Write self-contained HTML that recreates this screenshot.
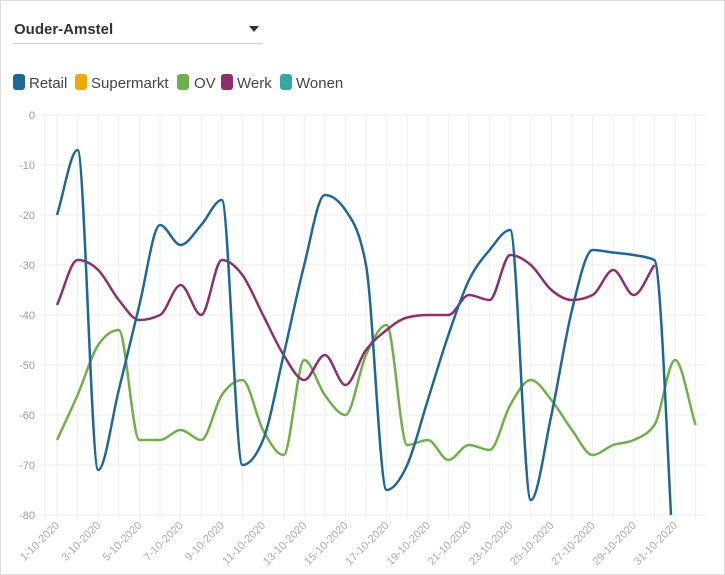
<!DOCTYPE html><html><head><meta charset="utf-8"><style>
body{margin:0;width:725px;height:575px;background:#fff;font-family:"Liberation Sans",sans-serif;overflow:hidden}
.frame{position:absolute;left:0;top:0;width:723px;height:573px;border:1px solid #ddd}
</style></head><body><div class="frame"></div>
<svg id="s" width="725" height="575" style="position:absolute;left:0;top:0" font-family="Liberation Sans, sans-serif">
<text x="14" y="34" font-size="15" font-weight="bold" fill="#333">Ouder-Amstel</text>
<path d="M249 26 L259 26 L254 32 Z" fill="#333"/>
<line x1="13" y1="43.5" x2="262" y2="43.5" stroke="#ccc"/>
<g font-size="15" fill="#444">
<rect x="13" y="74" width="12" height="16" rx="3" fill="#1f6796"/><text x="29" y="88">Retail</text>
<rect x="75" y="74" width="12" height="16" rx="3" fill="#eeaa00"/><text x="91" y="88">Supermarkt</text>
<rect x="177" y="74" width="12" height="16" rx="3" fill="#70b04a"/><text x="194" y="88">OV</text>
<rect x="221" y="74" width="12" height="16" rx="3" fill="#8e2f6c"/><text x="237" y="88">Werk</text>
<rect x="280" y="74" width="12" height="16" rx="3" fill="#35a8a5"/><text x="296" y="88">Wonen</text>
</g>
<g id="grid"></g><g id="lines"></g>
<defs><clipPath id="c"><rect x="40" y="110" width="670" height="405"/></clipPath></defs>
</svg>
<script>
var g=document.getElementById('grid'),L=document.getElementById('lines'),h='';
function X(d){return 57+20.6*(d-1)}function Y(v){return 115-5*v}
for(var v=0;v>=-80;v-=10){h+='<line x1="40" x2="706" y1="'+Y(v)+'" y2="'+Y(v)+'" stroke="#eee"/><text x="35" y="'+(Y(v)+4)+'" font-size="11" fill="#999" text-anchor="end">'+v+'</text>';}
h+='<line x1="45" x2="45" y1="115" y2="520" stroke="#eee"/>';
for(var d=1;d<=32;d++){h+='<line x1="'+X(d)+'" x2="'+X(d)+'" y1="115" y2="520" stroke="#eee"/>';
if(d%2==1)h+='<text transform="translate('+(X(d)+3)+',526) rotate(-45)" font-size="11" fill="#aaa" text-anchor="end">'+d+'-10-2020</text>';}
g.innerHTML=h;
function mono(pts){var n=pts.length,xs=pts.map(p=>p[0]),ys=pts.map(p=>p[1]),s=[],m=[];
for(var i=0;i<n-1;i++)s.push((ys[i+1]-ys[i])/(xs[i+1]-xs[i]));
for(i=0;i<n;i++){if(i==0)m.push(s[0]);else if(i==n-1)m.push(s[n-2]);else{if(s[i-1]*s[i]<=0)m.push(0);else{var h0=xs[i]-xs[i-1],h1=xs[i+1]-xs[i],p=(s[i-1]*h1+s[i]*h0)/(h0+h1);m.push((Math.sign(s[i-1])+Math.sign(s[i]))*Math.min(Math.abs(s[i-1]),Math.abs(s[i]),0.5*Math.abs(p)));}}}
var d='M'+xs[0]+' '+ys[0];for(i=0;i<n-1;i++){var dx=(xs[i+1]-xs[i])/3;d+='C'+(xs[i]+dx)+' '+(ys[i]+m[i]*dx)+' '+(xs[i+1]-dx)+' '+(ys[i+1]-m[i+1]*dx)+' '+xs[i+1]+' '+ys[i+1];}return d;}
function line(vals,col){var p=vals.map((v,i)=>[X(i+1),Y(v)]);L.innerHTML+='<path d="'+mono(p)+'" fill="none" stroke="'+col+'" stroke-width="2.5" clip-path="url(#c)"/>';}
line([-65,-56,-46,-43,-65,-65,-63,-65,-56,-53,-63,-68,-49,-56,-60,-48,-42,-66,-65,-69,-66,-67,-58,-53,-57,-63,-68,-66,-65,-62,-49,-62],'#70b04a');
line([-38,-29,-31,-37,-41,-40,-34,-40,-29,-32,-40,-48,-53,-48,-54,-47,-43,-40.5,-40,-40,-36,-37,-28,-30,-35,-37,-36,-31,-36,-30],'#8e2f6c');
line([-20,-7,-71,-55,-38,-22,-26,-22,-17,-70,-65,-48,-30,-16,-19,-30,-75,-70,-57,-44,-33,-27,-23,-77,-60,-39,-27,-27.5,-28,-29,-95],'#1f6796');
</script></body></html>
